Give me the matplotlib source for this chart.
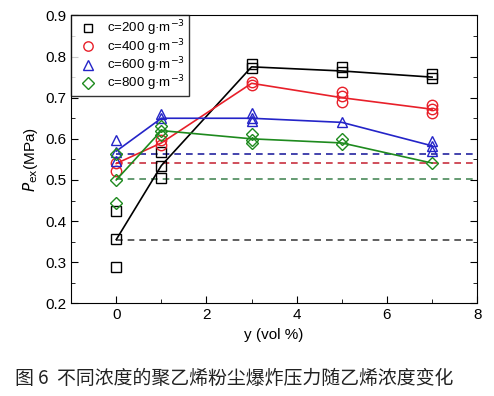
import matplotlib
matplotlib.use("Agg")
import matplotlib.pyplot as plt
from matplotlib.ticker import MultipleLocator

plt.rcParams['font.family'] = ['Liberation Sans', 'DejaVu Sans']

# y (vol %) positions of the mean lines
y_line = [0, 1, 3, 5, 7]

# mean values (lines)
line_200 = [0.355, 0.535, 0.775, 0.765, 0.750]
line_400 = [0.540, 0.590, 0.735, 0.700, 0.672]
line_600 = [0.570, 0.650, 0.650, 0.640, 0.583]
line_800 = [0.500, 0.620, 0.600, 0.590, 0.541]

# individual measurements (scatter)
x_200 = [0, 0, 0, 1, 1, 1, 3, 3, 5, 5, 7, 7]
p_200 = [0.288, 0.356, 0.425, 0.504, 0.535, 0.567, 0.782, 0.772, 0.774, 0.762, 0.757, 0.747]
x_400 = [0, 0, 1, 1, 3, 3, 5, 5, 5, 7, 7, 7]
p_400 = [0.522, 0.541, 0.585, 0.597, 0.739, 0.731, 0.715, 0.703, 0.689, 0.682, 0.673, 0.662]
x_600 = [0, 0, 0, 1, 1, 3, 3, 3, 5, 7, 7, 7]
p_600 = [0.596, 0.569, 0.545, 0.660, 0.650, 0.662, 0.650, 0.644, 0.642, 0.595, 0.583, 0.571]
x_800 = [0, 0, 0, 1, 1, 1, 3, 3, 3, 5, 5, 7]
p_800 = [0.500, 0.443, 0.562, 0.610, 0.620, 0.630, 0.611, 0.597, 0.591, 0.600, 0.587, 0.541]

# reference pressure without ethylene (dashed)
ref_200 = 0.354
ref_400 = 0.542
ref_600 = 0.563
ref_800 = 0.502

labels = ['c=200 g·m$^{-3}$', 'c=400 g·m$^{-3}$', 'c=600 g·m$^{-3}$', 'c=800 g·m$^{-3}$']
colors = ['black', '#e8202a', '#2424c8', '#1e8a1e']
dash_colors = ['#444444', '#c83040', '#2424a0', '#4a8a5a']
markers = ['s', 'o', '^', 'D']
msizes = [6.5, 7.5, 7.5, 6.5]

fig = plt.figure(figsize=(4.94, 3.96), dpi=100)
ax = fig.add_axes([0.144, 0.234, 0.822, 0.727])

xs = [x_200, x_400, x_600, x_800]
ps = [p_200, p_400, p_600, p_800]
lines = [line_200, line_400, line_600, line_800]
refs = [ref_200, ref_400, ref_600, ref_800]

for i in range(4):
    ax.plot([0, 8], [refs[i], refs[i]], linestyle='--', color=dash_colors[i], lw=1.2, dashes=(4, 3))
for i in range(4):
    ax.plot(y_line, lines[i], color=colors[i], lw=1.2)
    ax.plot(xs[i], ps[i], linestyle='none', marker=markers[i], ms=msizes[i],
            mfc='none', mec=colors[i], mew=1.0, label=labels[i])

ax.set_xlim(-1, 8)
ax.set_ylim(0.2, 0.9)
ax.xaxis.set_major_locator(MultipleLocator(2))
ax.xaxis.set_minor_locator(MultipleLocator(1))
ax.yaxis.set_major_locator(MultipleLocator(0.1))
ax.yaxis.set_minor_locator(MultipleLocator(0.05))
ax.tick_params(which='both', direction='in', top=False, right=True, labelsize=11)
ax.tick_params(which='major', length=5)
ax.tick_params(which='minor', length=3)
ax.set_xlabel('y (vol %)', fontsize=11)
ax.set_ylabel('$P_{\\rm ex}$(MPa)', fontsize=11, labelpad=4)

leg = ax.legend(loc='upper left', fontsize=9.5, frameon=True, fancybox=False,
                edgecolor='black', borderaxespad=0, handletextpad=0.5,
                labelspacing=-0.1, borderpad=0.25, markerscale=0.9)
leg.get_frame().set_linewidth(1.0)

fig.text(0.03, 0.03, '图 6  不同浓度的聚乙烯粉尘爆炸压力随乙烯浓度变化',
         fontsize=13.6, family=['Noto Sans CJK SC', 'DejaVu Sans'], color='#222222')

fig.savefig('out.png', dpi=100)
